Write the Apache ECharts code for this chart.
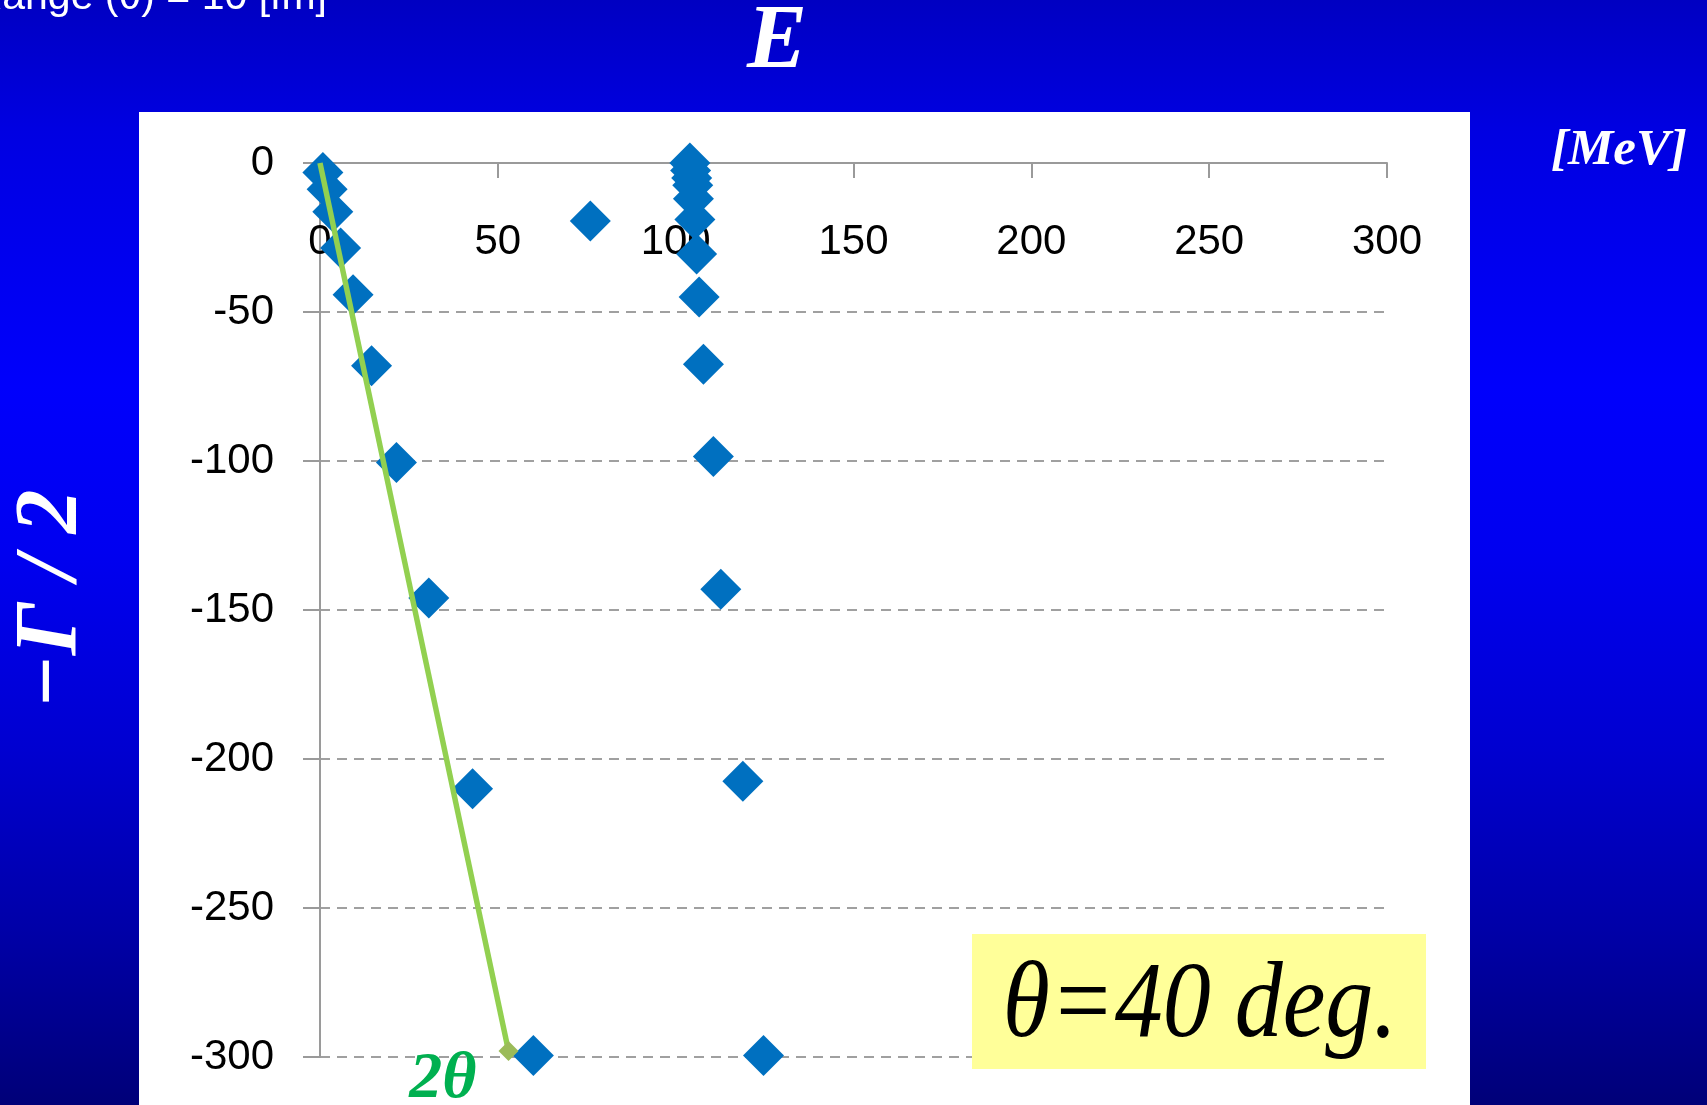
<!DOCTYPE html>
<html><head><meta charset="utf-8">
<script src="https://cdn.jsdelivr.net/npm/echarts@6/dist/echarts.min.js"></script>
<style>
html,body{margin:0;padding:0;width:1707px;height:1105px;overflow:hidden;
background:linear-gradient(to bottom,#0000c2 0%,#0000e2 12%,#0000fc 35%,#0000f0 50%,#0000d0 68%,#0000a8 84%,#000078 100%);}
#c{width:1707px;height:1105px;}
</style></head><body><div id="c"></div>
<script>
// Axis tick labels
const xTickLabels = [0, 50, 100, 150, 200, 250, 300];
const yTickLabels = [0, -50, -100, -150, -200, -250, -300];

// Resonance poles: E [MeV] vs -Gamma/2 [MeV]
const leftBranchE         = [0.8, 2.0, 3.6, 5.8, 9.3, 14.5, 21.5, 30.6, 42.9, 60.0];
const leftBranchHalfWidth = [-3.2, -8.8, -16.4, -28.5, -44.2, -68.0, -100.5, -146.0, -210.0, -299.5];

const rightBranchE         = [104.0, 104.2, 104.5, 104.8, 105.0, 105.4, 105.9, 106.6, 107.8, 110.6, 112.7, 118.9, 124.7];
const rightBranchHalfWidth = [0, -2.5, -5.0, -7.5, -12.0, -19.0, -30.5, -45.0, -67.5, -98.5, -143.0, -207.5, -299.5];

const isolatedE         = [76.0];
const isolatedHalfWidth = [-19.5];

// Rotated continuum line (2θ from real axis)
const rotationLineE         = [0, 53];
const rotationLineHalfWidth = [0, -298];

const zip = (a, b) => a.map((v, i) => [v, b[i]]);

const chart = echarts.init(document.getElementById('c'));
const serif = '"Liberation Serif","DejaVu Serif",serif';
const sans = '"Liberation Sans",Arial,sans-serif';

const scatterStyle = {
  type: 'scatter', symbol: 'diamond', symbolSize: 41,
  itemStyle: { color: '#0070c0', opacity: 1 }, z: 3
};

chart.setOption({
  animation: false,
  backgroundColor: 'transparent',
  grid: { left: 320, right: 320, top: 163, bottom: 48, containLabel: false },
  xAxis: {
    type: 'value', position: 'top',
    min: xTickLabels[0], max: xTickLabels[xTickLabels.length - 1],
    interval: xTickLabels[1] - xTickLabels[0],
    axisLine: { show: true, onZero: false, lineStyle: { color: '#9a9a9a', width: 2 } },
    axisTick: { show: true, inside: true, length: 15, lineStyle: { color: '#9a9a9a', width: 2 } },
    axisLabel: { inside: true, margin: 58, color: '#000', fontFamily: sans, fontSize: 42 },
    splitLine: { show: false }
  },
  yAxis: {
    type: 'value',
    min: yTickLabels[yTickLabels.length - 1], max: yTickLabels[0],
    interval: yTickLabels[0] - yTickLabels[1],
    axisLine: { show: true, onZero: false, lineStyle: { color: '#9a9a9a', width: 2 } },
    axisTick: { show: true, length: 17, lineStyle: { color: '#9a9a9a', width: 2 } },
    axisLabel: { margin: 46, color: '#000', fontFamily: sans, fontSize: 42 },
    splitLine: { show: true, lineStyle: { color: '#a0a0a0', width: 2, type: [10, 7] } }
  },
  series: [
    Object.assign({ name: 'left', data: zip(leftBranchE, leftBranchHalfWidth) }, scatterStyle),
    Object.assign({ name: 'right', data: zip(rightBranchE, rightBranchHalfWidth) }, scatterStyle),
    Object.assign({ name: 'isolated', data: zip(isolatedE, isolatedHalfWidth) }, scatterStyle),
    {
      type: 'line', name: 'rotation', z: 5,
      data: zip(rotationLineE, rotationLineHalfWidth).map((p, i) =>
        i === 0 ? { value: p, symbol: 'none' } : { value: p, symbol: 'diamond', symbolSize: 20 }),
      showAllSymbol: true,
      lineStyle: { color: '#92d050', width: 5.5 },
      itemStyle: { color: '#9bbb59', opacity: 1 }
    }
  ],
  graphic: [
    { type: 'rect', z: -10, shape: { x: 139, y: 112, width: 1331, height: 1000 }, style: { fill: '#ffffff' } },
    { type: 'rect', z: 50, shape: { x: 972, y: 934, width: 454, height: 135 }, style: { fill: '#ffff99' } },
    { type: 'text', z: 51, x: 1200, y: 1008, scaleY: 1.12,
      style: { text: 'θ=40 deg.', fill: '#000', font: 'italic 96px ' + serif, textAlign: 'center', textVerticalAlign: 'middle' } },
    { type: 'text', z: 51, x: 777, y: 44,
      style: { text: 'E', fill: '#fff', font: 'italic bold 90px ' + serif, textAlign: 'center', textVerticalAlign: 'middle' } },
    { type: 'text', z: 51, x: 1619, y: 151,
      style: { text: '[MeV]', fill: '#fff', font: 'italic bold 51px ' + serif, textAlign: 'center', textVerticalAlign: 'middle' } },
    { type: 'text', z: 51, x: 52, y: 599, rotation: Math.PI / 2,
      style: { text: '−Γ / 2', fill: '#fff', font: 'italic bold 88px ' + serif, textAlign: 'center', textVerticalAlign: 'middle' } },
    { type: 'text', z: 51, x: 443, y: 1080,
      style: { text: '2θ', fill: '#00b050', font: 'italic bold 66px ' + serif, textAlign: 'center', textVerticalAlign: 'middle' } },
    { type: 'text', z: 51, x: 327, y: 18,
      style: { text: 'Range (θ) = 10 [fm]', fill: '#fff', font: '41px ' + sans, textAlign: 'right', textVerticalAlign: 'bottom' } }
  ]
});
</script></body></html>
